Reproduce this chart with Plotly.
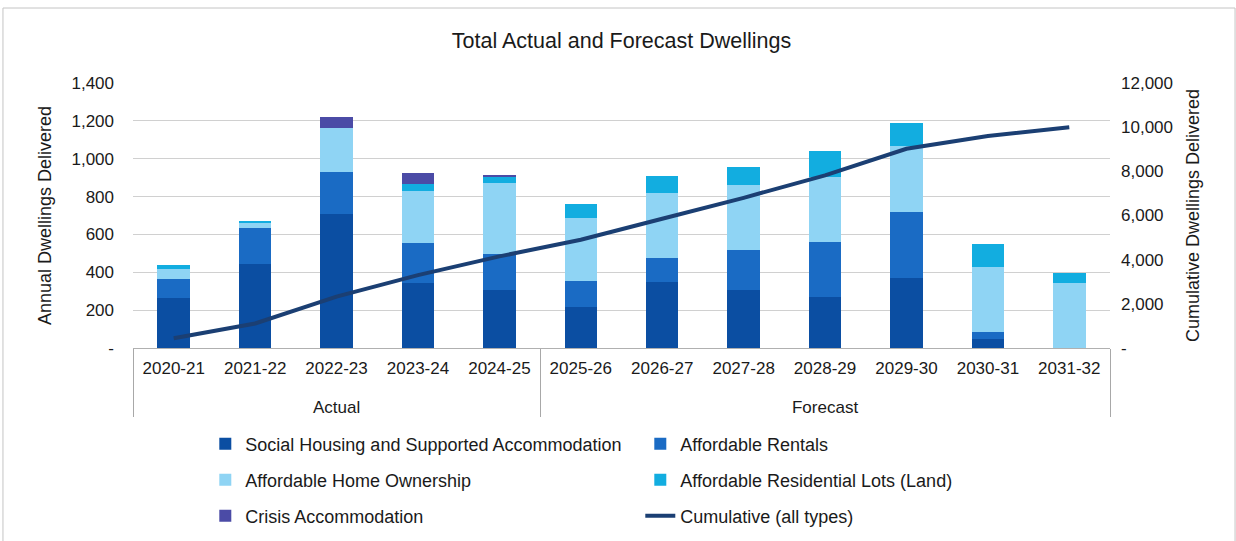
import plotly.graph_objects as go

periods = ["<br>Actual"] * 5 + ["<br>Forecast"] * 7
years = ["2020-21", "2021-22", "2022-23", "2023-24", "2024-25", "2025-26",
         "2026-27", "2027-28", "2028-29", "2029-30", "2030-31", "2031-32"]

social = [265, 443, 708, 346, 309, 217, 349, 305, 272, 370, 50, 0]
rentals = [102, 192, 220, 210, 187, 136, 124, 212, 289, 347, 32, 0]
ownership = [53, 27, 234, 274, 378, 332, 346, 345, 345, 351, 344, 341]
land = [18, 9, 0, 37, 31, 74, 92, 95, 135, 120, 125, 55]
crisis = [0, 0, 56, 60, 8, 0, 0, 0, 0, 0, 0, 0]
cumulative = [440, 1110, 2330, 3300, 4150, 4900, 5850, 6800, 7820, 9020, 9600, 10000]

left_ticks = [0, 200, 400, 600, 800, 1000, 1200, 1400]
left_text = ["-", "200", "400", "600", "800", "1,000", "1,200", "1,400"]
right_ticks = [0, 2000, 4000, 6000, 8000, 10000, 12000]
right_text = ["-", "2,000", "4,000", "6,000", "8,000", "10,000", "12,000"]

FONT = "Liberation Sans, Arial, sans-serif"
TXT = "#1a1a1a"
x = [periods, years]

fig = go.Figure()
series = [
    ("Social Housing and Supported Accommodation", social, "#0B4EA2", "legend"),
    ("Affordable Rentals", rentals, "#1A6BC4", "legend"),
    ("Affordable Home Ownership", ownership, "#8FD4F4", "legend2"),
    ("Affordable Residential Lots (Land)", land, "#12ADE0", "legend2"),
    ("Crisis Accommodation", crisis, "#4B4BA6", "legend3"),
]
for name, vals, col, lg in series:
    fig.add_trace(go.Bar(x=x, y=vals, name=name, marker=dict(color=col, line=dict(width=0)),
                         width=0.4, legend=lg))

fig.add_trace(go.Scatter(x=x, y=cumulative, name="Cumulative (all types)", mode="lines",
                         line=dict(color="#1B3F73", width=4), yaxis="y2", legend="legend3"))

leg_common = dict(orientation="h", xanchor="left", yanchor="middle", x=0.074,
                  yref="container",
                  entrywidth=390, entrywidthmode="pixels",
                  font=dict(family=FONT, size=18, color=TXT),
                  bgcolor="rgba(0,0,0,0)", traceorder="normal")

fig.update_layout(
    width=1236, height=541,
    margin=dict(l=133, r=126, t=83, b=193),
    paper_bgcolor="white", plot_bgcolor="white",
    barmode="stack", bargap=0.6,
    font=dict(family=FONT, color=TXT),
    title=dict(text="Total Actual and Forecast Dwellings", x=0.5, xref="paper", y=0.925,
               yanchor="middle", font=dict(family=FONT, size=21.5, color=TXT)),
    xaxis=dict(type="multicategory", showline=True, linecolor="#b0b0b0", linewidth=1,
               showdividers=True, dividercolor="#a8a8a8", dividerwidth=1,
               tickfont=dict(family=FONT, size=17, color=TXT), automargin=False,
               ticks="", ticklabelstandoff=5),
    yaxis=dict(range=[0, 1400], tickvals=left_ticks, ticktext=left_text,
               showgrid=True, gridcolor="#d0d0d0", gridwidth=1, zeroline=False,
               tickfont=dict(family=FONT, size=17, color=TXT),
               title=dict(text="Annual Dwellings Delivered", standoff=15,
                          font=dict(family=FONT, size=18, color=TXT)),
               ticklabelstandoff=18, automargin=False),
    yaxis2=dict(range=[0, 12000], tickvals=right_ticks, ticktext=right_text, overlaying="y",
                side="right", showgrid=False, zeroline=False,
                tickfont=dict(family=FONT, size=17, color=TXT),
                title=dict(text="Cumulative Dwellings Delivered", standoff=14,
                           font=dict(family=FONT, size=18, color=TXT)),
                ticklabelstandoff=10, automargin=False),
    legend=dict(**leg_common, y=0.1793),
    legend2=dict(**leg_common, y=0.1128),
    legend3=dict(**leg_common, y=0.0462),
    shapes=[dict(type="rect", xref="paper", yref="paper", x0=-0.1331, x1=1.128, y0=-0.75, y1=1.283,
                 line=dict(width=1, color="#c4c4c4"))],
)

fig.write_html("out.html")
